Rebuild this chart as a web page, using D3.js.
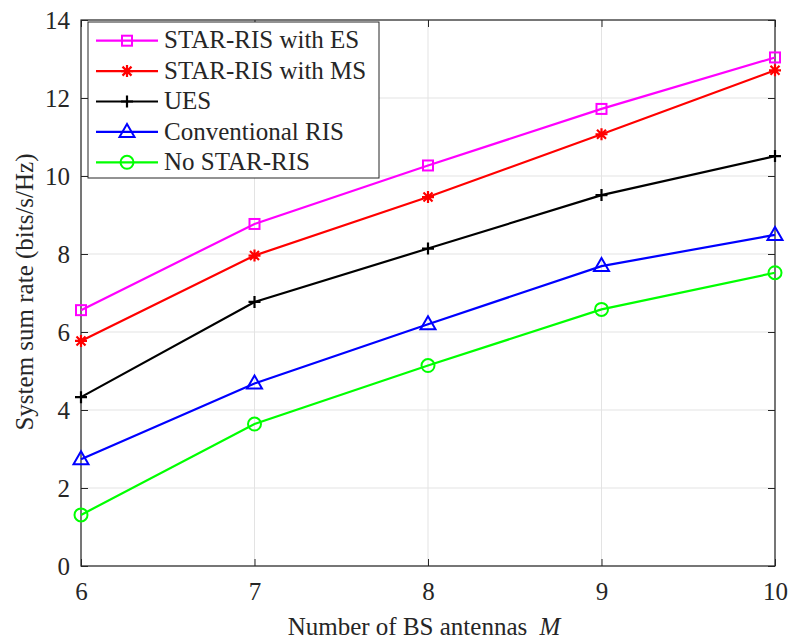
<!DOCTYPE html>
<html>
<head>
<meta charset="utf-8">
<script src="https://cdn.jsdelivr.net/npm/d3@7"></script>
<style>
body { margin: 0; background: #fff; }
text { font-family: "Liberation Serif", "Times New Roman", serif; fill: #262626; }
</style>
</head>
<body>
<div id="chart"></div>
<script>
// data
var antennas = [6, 7, 8, 9, 10];
var starEs = [6.56, 8.77, 10.27, 11.72, 13.04];
var starMs = [5.77, 7.96, 9.46, 11.07, 12.71];
var ues = [4.33, 6.77, 8.14, 9.51, 10.51];
var convRis = [2.74, 4.68, 6.2, 7.69, 8.49];
var noStar = [1.31, 3.64, 5.14, 6.58, 7.52];
var yTicks = [0, 2, 4, 6, 8, 10, 12, 14];

var seriesList = [
  { name: "STAR-RIS with ES", values: starEs, color: "#ff00ff", marker: "square" },
  { name: "STAR-RIS with MS", values: starMs, color: "#ff0000", marker: "asterisk" },
  { name: "UES", values: ues, color: "#000000", marker: "plus" },
  { name: "Conventional RIS", values: convRis, color: "#0000ff", marker: "triangle" },
  { name: "No STAR-RIS", values: noStar, color: "#00ff00", marker: "circle" }
];

var svgWidth = 788, svgHeight = 639;
var margin = { top: 20, right: 13, bottom: 73, left: 81 };
var width = svgWidth - margin.left - margin.right;
var height = svgHeight - margin.top - margin.bottom;

var svg = d3.select("#chart").append("svg")
  .attr("width", svgWidth)
  .attr("height", svgHeight);

var chartGroup = svg.append("g")
  .attr("transform", `translate(${margin.left}, ${margin.top})`);

var xScale = d3.scaleLinear().domain([6, 10]).range([0, width]);
var yScale = d3.scaleLinear().domain([0, 14]).range([height, 0]);

// grid
chartGroup.append("g").selectAll("line")
  .data(antennas)
  .enter().append("line")
  .attr("x1", d => xScale(d)).attr("x2", d => xScale(d))
  .attr("y1", 0).attr("y2", height)
  .attr("stroke", "#e3e3e3").attr("stroke-width", 1);

chartGroup.append("g").selectAll("line")
  .data(yTicks)
  .enter().append("line")
  .attr("x1", 0).attr("x2", width)
  .attr("y1", d => yScale(d)).attr("y2", d => yScale(d))
  .attr("stroke", "#e3e3e3").attr("stroke-width", 1);

// axes with inward ticks, mirrored on top/right
function styleAxis(g) {
  g.select(".domain").remove();
  g.selectAll("line").attr("stroke", "#262626");
  g.selectAll("text").style("font-size", "25px").attr("fill", "#262626");
}

chartGroup.append("g")
  .attr("transform", `translate(0, ${height})`)
  .call(d3.axisBottom(xScale).tickValues(antennas).tickSizeInner(-7).tickPadding(16).tickFormat(d3.format("d")))
  .call(styleAxis);

chartGroup.append("g")
  .call(d3.axisTop(xScale).tickValues(antennas).tickSizeInner(-7).tickFormat(""))
  .call(styleAxis);

chartGroup.append("g")
  .call(d3.axisLeft(yScale).tickValues(yTicks).tickSizeInner(-7).tickPadding(11).tickFormat(d3.format("d")))
  .call(styleAxis);

chartGroup.append("g")
  .attr("transform", `translate(${width}, 0)`)
  .call(d3.axisRight(yScale).tickValues(yTicks).tickSizeInner(-7).tickFormat(""))
  .call(styleAxis);

chartGroup.append("rect")
  .attr("width", width).attr("height", height)
  .attr("fill", "none").attr("stroke", "#262626").attr("stroke-width", 1.2);

// marker drawing
function drawMarker(g, type, color) {
  if (type === "square") {
    g.append("rect").attr("x", -5).attr("y", -5).attr("width", 10).attr("height", 10)
      .attr("fill", "none").attr("stroke", color).attr("stroke-width", 2);
  } else if (type === "circle") {
    g.append("circle").attr("r", 6.5)
      .attr("fill", "none").attr("stroke", color).attr("stroke-width", 2);
  } else if (type === "triangle") {
    g.append("path").attr("d", "M0,-8 L7.5,5 L-7.5,5 Z")
      .attr("fill", "none").attr("stroke", color).attr("stroke-width", 2);
  } else if (type === "plus") {
    g.append("path").attr("d", "M-6,0 L6,0 M0,-6 L0,6")
      .attr("stroke", color).attr("stroke-width", 2.2);
  } else if (type === "asterisk") {
    g.append("path").attr("d", "M-6,0 L6,0 M0,-6 L0,6 M-4.5,-4.5 L4.5,4.5 M-4.5,4.5 L4.5,-4.5")
      .attr("stroke", color).attr("stroke-width", 2.2);
  }
}

var line = d3.line()
  .x((d, i) => xScale(antennas[i]))
  .y(d => yScale(d));

seriesList.forEach(function(s) {
  chartGroup.append("path")
    .datum(s.values)
    .attr("d", line)
    .attr("fill", "none")
    .attr("stroke", s.color)
    .attr("stroke-width", 2.2);

  s.values.forEach(function(v, i) {
    var mg = chartGroup.append("g")
      .attr("transform", `translate(${xScale(antennas[i])}, ${yScale(v)})`);
    drawMarker(mg, s.marker, s.color);
  });
});

// legend
var legend = svg.append("g").attr("transform", "translate(88, 22)");
legend.append("rect")
  .attr("width", 291).attr("height", 156)
  .attr("fill", "#fff").attr("stroke", "#262626").attr("stroke-width", 1);

seriesList.forEach(function(s, i) {
  var ly = 18.7 + i * 30.4;
  var row = legend.append("g").attr("transform", `translate(0, ${ly})`);
  row.append("line").attr("x1", 8).attr("x2", 70).attr("y1", 0).attr("y2", 0)
    .attr("stroke", s.color).attr("stroke-width", 2.2);
  var mg = row.append("g").attr("transform", "translate(39, 0)");
  drawMarker(mg, s.marker, s.color);
  row.append("text").attr("x", 76).attr("y", 7.6)
    .style("font-size", "25px").attr("fill", "#000")
    .text(s.name);
});

// axis labels
var xLabel = svg.append("text")
  .attr("x", 424)
  .attr("y", 635)
  .attr("text-anchor", "middle")
  .style("font-size", "25px");
xLabel.append("tspan").text("Number of BS antennas ");
xLabel.append("tspan").style("font-style", "italic").attr("dx", 6).text("M");

svg.append("text")
  .attr("transform", `translate(33, 292) rotate(-90)`)
  .attr("text-anchor", "middle")
  .style("font-size", "25px")
  .text("System sum rate (bits/s/Hz)");
</script>
</body>
</html>
